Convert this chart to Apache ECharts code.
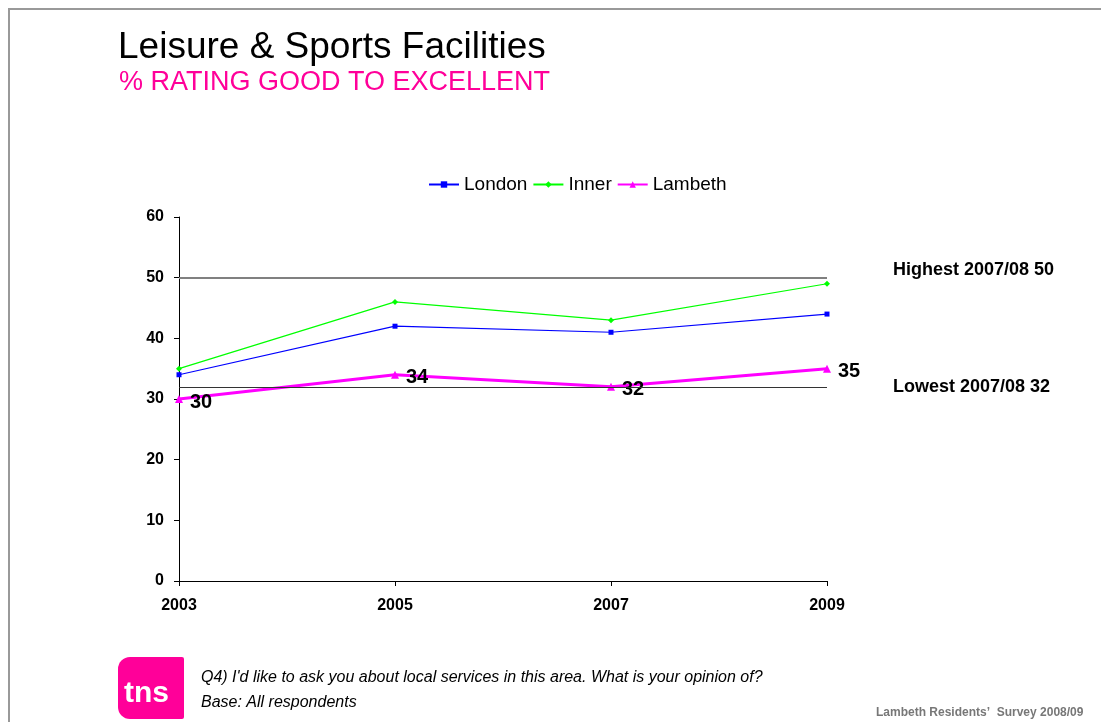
<!DOCTYPE html>
<html>
<head>
<meta charset="utf-8">
<script src="https://cdn.jsdelivr.net/npm/echarts@6/dist/echarts.min.js"></script>
<style>
  html, body { margin: 0; padding: 0; background: #fff; }
  #chart { width: 1101px; height: 722px; }
</style>
</head>
<body>
<div id="chart"></div>
<script>
const years = ['2003', '2005', '2007', '2009'];
const london = [34, 42, 41, 44];
const inner = [35, 46, 43, 49];
const lambeth = [30, 34, 32, 35];
const highest = 50;
const lowest = 32;

const chart = echarts.init(document.getElementById('chart'));
const font = '"Liberation Sans", Arial, sans-serif';

const option = {
  animation: false,
  textStyle: { fontFamily: font },
  title: [
    {
      text: 'Leisure & Sports Facilities',
      left: 113, top: 24,
      textStyle: { fontSize: 37, fontWeight: 'normal', color: '#000', fontFamily: font }
    },
    {
      text: '% RATING GOOD TO EXCELLENT',
      left: 114, top: 64,
      textStyle: { fontSize: 27, fontWeight: 'normal', color: '#FF0099', fontFamily: font }
    }
  ],
  legend: {
    left: 428, top: 175,
    padding: 0,
    itemGap: 5,
    itemWidth: 30, itemHeight: 8,
    textStyle: { fontSize: 19, color: '#000', fontFamily: font },
    data: ['London', 'Inner', 'Lambeth']
  },
  grid: { left: 179, right: 274, top: 217, bottom: 141 },
  xAxis: {
    type: 'category',
    data: years,
    boundaryGap: false,
    axisLine: { lineStyle: { color: '#000', width: 1 } },
    axisTick: { show: true, length: 5, alignWithLabel: true, lineStyle: { color: '#000' } },
    axisLabel: { fontSize: 16, fontWeight: 'bold', color: '#000', margin: 17, fontFamily: font }
  },
  yAxis: {
    type: 'value',
    min: 0, max: 60, interval: 10,
    axisLine: { show: true, lineStyle: { color: '#000', width: 1 } },
    axisTick: { show: true, length: 5, lineStyle: { color: '#000' } },
    axisLabel: { fontSize: 16, fontWeight: 'bold', color: '#000', margin: 15, fontFamily: font },
    splitLine: { show: false }
  },
  series: [
    {
      name: 'London', type: 'line', data: london,
      symbol: 'rect', symbolSize: 5,
      lineStyle: { color: '#0000FF', width: 1.2 },
      itemStyle: { color: '#0000FF' },
      z: 3
    },
    {
      name: 'Inner', type: 'line', data: inner,
      symbol: 'diamond', symbolSize: 6,
      lineStyle: { color: '#00FF00', width: 1.2 },
      itemStyle: { color: '#00FF00' },
      z: 3
    },
    {
      name: 'Lambeth', type: 'line', data: lambeth,
      symbol: 'triangle', symbolSize: 8,
      lineStyle: { color: '#FF00FF', width: 3 },
      itemStyle: { color: '#FF00FF' },
      z: 4,
      label: {
        show: true, position: 'right', distance: 7, offset: [0, 3],
        fontSize: 20, fontWeight: 'bold', color: '#000', fontFamily: font
      },
      markLine: {
        silent: true,
        symbol: 'none',
        lineStyle: { type: 'solid', width: 1 },
        label: {
          position: 'end', distance: 66,
          fontSize: 18, fontWeight: 'bold', color: '#000', fontFamily: font
        },
        data: [
          {
            yAxis: highest,
            lineStyle: { color: '#808080', width: 2 },
            label: { formatter: 'Highest 2007/08 ' + highest, offset: [0, -8] }
          },
          {
            yAxis: lowest,
            lineStyle: { color: '#333', width: 1 },
            label: { formatter: 'Lowest 2007/08 ' + lowest }
          }
        ]
      }
    }
  ],
  graphic: [
    {
      type: 'rect', silent: true,
      shape: { x: 9, y: 9, width: 1200, height: 800 },
      style: { fill: 'none', stroke: '#999', lineWidth: 2 }
    },
    {
      type: 'rect', silent: true,
      shape: { x: 118, y: 657, width: 66, height: 62, r: [12, 2, 2, 12] },
      style: { fill: '#FF0099' }
    },
    {
      type: 'text', silent: true, left: 124, top: 679,
      style: { text: 'tns', fill: '#fff', font: 'bold 30px ' + font }
    },
    {
      type: 'text', silent: true, left: 201, top: 670,
      style: { text: "Q4) I'd like to ask you about local services in this area. What is your opinion of?", fill: '#000', font: 'italic 16px ' + font }
    },
    {
      type: 'text', silent: true, left: 201, top: 695,
      style: { text: 'Base: All respondents', fill: '#000', font: 'italic 16px ' + font }
    },
    {
      type: 'text', silent: true, left: 876, top: 707,
      style: { text: 'Lambeth Residents\u2019  Survey 2008/09', fill: '#777', font: 'bold 12px ' + font }
    }
  ]
};
chart.setOption(option);
</script>
</body>
</html>
